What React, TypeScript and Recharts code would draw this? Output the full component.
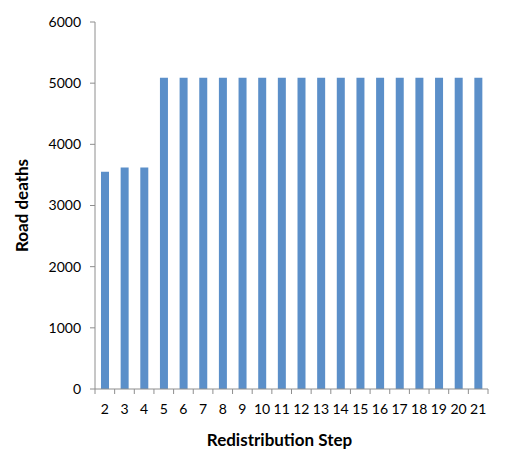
import React from 'react';
import { BarChart, Bar, XAxis, YAxis } from 'recharts';

// Redistribution steps shown on the x axis
const steps = ['2', '3', '4', '5', '6', '7', '8', '9', '10', '11', '12', '13', '14', '15', '16', '17', '18', '19', '20', '21'];

// Road deaths per step
const deaths = [3550, 3620, 3620, 5090, 5090, 5090, 5090, 5090, 5090, 5090, 5090, 5090, 5090, 5090, 5090, 5090, 5090, 5090, 5090, 5090];

const yTicks = [0, 1000, 2000, 3000, 4000, 5000, 6000];

const data = steps.map((s, i) => ({ step: s, deaths: deaths[i] }));

const AXIS = '#8e8e8e';
const FONT = 'Lato, "Open Sans", sans-serif';
const WIDTH = 511;
const HEIGHT = 458;
const MARGIN = { top: 22, right: 23, left: 0, bottom: 0 };
const Y_WIDTH = 95;
const X_HEIGHT = 69;

const plotWidth = WIDTH - MARGIN.left - MARGIN.right - Y_WIDTH;
const axisY = HEIGHT - MARGIN.bottom - X_HEIGHT;
const band = plotWidth / steps.length;

// tick label at band centre, tick marks at band edges (Excel style)
const StepTick = (props: any) => {
  const { x, payload, index } = props;
  const left = x - band / 2;
  return (
    <g>
      <line x1={left} y1={axisY} x2={left} y2={axisY + 5} stroke={AXIS} />
      {index === steps.length - 1 && (
        <line x1={x + band / 2} y1={axisY} x2={x + band / 2} y2={axisY + 5} stroke={AXIS} />
      )}
      <text x={x} y={axisY + 25} textAnchor="middle" fill="#000" fontSize={14} fontFamily={FONT}>
        {payload.value}
      </text>
    </g>
  );
};

export default function App() {
  return (
    <div style={{ position: 'absolute', left: 0, top: 0, width: WIDTH, height: HEIGHT, background: '#fff' }}>
      <BarChart width={WIDTH} height={HEIGHT} data={data} margin={MARGIN} barSize={8}>
        <XAxis
          dataKey="step"
          height={X_HEIGHT}
          stroke={AXIS}
          tickLine={false}
          tick={<StepTick />}
          interval={0}
          label={{
            value: 'Redistribution Step',
            position: 'insideBottom',
            offset: 12,
            dx: -12,
            fill: '#000',
            fontSize: 17,
            fontWeight: 'bold',
            fontFamily: FONT,
          }}
        />
        <YAxis
          width={Y_WIDTH}
          domain={[0, 6000]}
          ticks={yTicks}
          interval={0}
          stroke={AXIS}
          tickSize={5}
          tick={{ fill: '#000', fontSize: 14, fontFamily: FONT }}
          tickMargin={9}
          label={{
            value: 'Road deaths',
            angle: -90,
            position: 'insideLeft',
            offset: 22,
            fill: '#000',
            fontSize: 17,
            fontWeight: 'bold',
            fontFamily: FONT,
            style: { textAnchor: 'middle' },
          }}
        />
        <Bar dataKey="deaths" fill="#5B8FC9" isAnimationActive={false} />
      </BarChart>
    </div>
  );
}
